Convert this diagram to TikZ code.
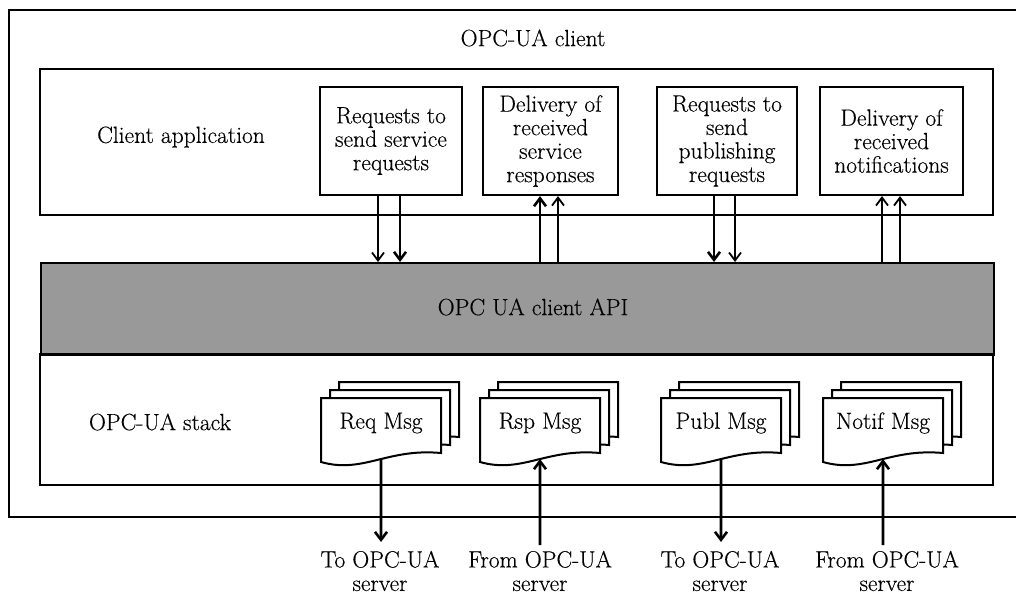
\documentclass[tikz,border=0pt]{standalone}
\usepackage{fontspec}
\setmainfont{Latin Modern Roman}[FakeBold=0.35]
\usetikzlibrary{arrows.meta}

\tikzset{
  frame/.style={draw, line width=2.2pt},
  lbl/.style={font=\fontsize{23.5}{23.5}\selectfont, align=center, inner sep=0pt},
  appbox/.style={frame, fill=white, minimum height=108pt, inner sep=0pt, lbl},
  flow/.style={line width=2.6pt, -{Straight Barb[length=8pt,width=12pt]}},
  flowthin/.style={line width=1.8pt, -{Straight Barb[length=8pt,width=12pt]}},
  sheet/.style={draw, line width=2pt, fill=white, line join=miter},
}

% A stack of three message sheets; #1 name, #2 centre x, #3 text
\newcommand\msgstack[3]{%
  \begin{scope}[shift={(#2,398)}]
    \foreach \dx/\dy in {18/-16, 9/-8}{
      \path[sheet, shift={(\dx,\dy)}] (-60,0) -- (-60,64)
        .. controls (-18,76) and (6,50) .. (60,55) -- (60,0) -- cycle;
    }
    \path[sheet] (-60,0) -- (-60,64)
      .. controls (-18,76) and (6,50) .. coordinate[pos=0.541] (#1-b) (60,55)
      -- (60,0) -- cycle;
    \node[lbl] (#1) at (0,25) {#3};
  \end{scope}
}

\begin{document}
\begin{tikzpicture}[x=1pt, y=-1pt]
  \useasboundingbox (0,0) rectangle (1016,596);
  \clip (0,0) rectangle (1016,596);

  % outer client frame (runs past the right edge)
  \draw[frame, line width=2.6pt] (9,10) rectangle (1040,517);
  \node[lbl] (client) at (533,38) {OPC-UA client};

  % client application layer
  \draw[frame] (40,69) rectangle (993,215);
  \node[lbl] (app) at (181,137) {Client application};

  \node[appbox, minimum width=142pt] (b1) at (391,141) {Requests to\\send service\\requests};
  \node[appbox, minimum width=135pt] (b2) at (550.5,141) {Delivery of\\received\\service\\responses};
  \node[appbox, minimum width=140pt] (b3) at (727,141) {Requests to\\send\\publishing\\requests};
  \node[appbox, minimum width=143pt] (b4) at (891.5,141) {Delivery of\\received\\notifications};

  % client API layer
  \node[frame, fill=black!40, minimum width=953pt, minimum height=92pt, inner sep=0pt,
        anchor=north west, lbl] (api) at (40,262) {};
  \node[lbl] (apitext) at (533,307) {OPC UA client API};

  % stack layer
  \draw[frame] (40,354) rectangle (993,485);
  \node[lbl] (stack) at (160,422) {OPC-UA stack};

  % calls between application and API
  \draw[flowthin] (b1.south -| 378,0) -- (api.north -| 378,0);
  \draw[flow]     (b1.south -| 400,0) -- (api.north -| 400,0);
  \draw[flow]     (api.north -| 540,0) -- (b2.south -| 540,0);
  \draw[flowthin] (api.north -| 558,0) -- (b2.south -| 558,0);
  \draw[flow]     (b3.south -| 714,0) -- (api.north -| 714,0);
  \draw[flowthin] (b3.south -| 735,0) -- (api.north -| 735,0);
  \draw[flowthin] (api.north -| 882,0) -- (b4.south -| 882,0);
  \draw[flowthin] (api.north -| 900,0) -- (b4.south -| 900,0);

  % message stacks
  \msgstack{req}{381}{Req Msg}
  \msgstack{rsp}{540}{Rsp Msg}
  \msgstack{publ}{721}{Publ Msg}
  \msgstack{notif}{883}{Notif Msg}

  % links to the server
  \coordinate (req-e)   at (381,542);
  \coordinate (rsp-e)   at (540,545);
  \coordinate (publ-e)  at (721,542);
  \coordinate (notif-e) at (883,545);
  \draw[flow] (req-b) -- (req-e);
  \draw[flow] (rsp-e) -- (rsp-b);
  \draw[flow] (publ-b) -- (publ-e);
  \draw[flow] (notif-e) -- (notif-b);

  \node[lbl] (t1) at (380,571) {To OPC-UA\\server};
  \node[lbl] (t2) at (540,571) {From OPC-UA\\server};
  \node[lbl] (t3) at (720,571) {To OPC-UA\\server};
  \node[lbl] (t4) at (887,571) {From OPC-UA\\server};
\end{tikzpicture}
\end{document}
